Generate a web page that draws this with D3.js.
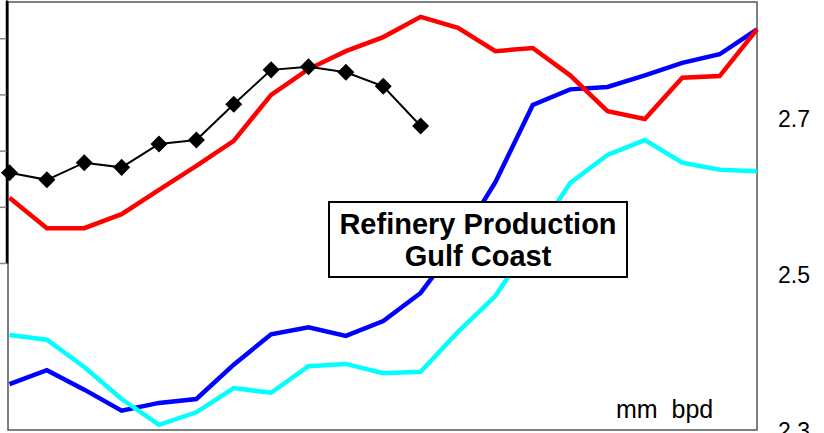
<!DOCTYPE html>
<html>
<head>
<meta charset="utf-8">
<script src="https://cdn.jsdelivr.net/npm/d3@7"></script>
<style>
  body { margin: 0; background: #fff; }
  svg { display: block; font-family: Arial, "Liberation Sans", sans-serif; }
</style>
</head>
<body>
<svg id="chart"></svg>
<script>
// periods along the x axis (21 observations)
const periods = ['1', '2', '3', '4', '5', '6', '7', '8', '9', '10', '11',
  '12', '13', '14', '15', '16', '17', '18', '19', '20', '21'];

// mm bpd
const blueSeries = [2.360, 2.378, 2.353, 2.326, 2.336, 2.341, 2.385, 2.424, 2.433, 2.422, 2.441,
  2.477, 2.541, 2.619, 2.718, 2.738, 2.741, 2.756, 2.772, 2.783, 2.815];
const cyanSeries = [2.423, 2.417, 2.382, 2.341, 2.308, 2.324, 2.355, 2.349, 2.383, 2.386, 2.374,
  2.376, 2.427, 2.473, 2.545, 2.618, 2.654, 2.673, 2.644, 2.635, 2.633];
const redSeries = [2.599, 2.560, 2.560, 2.578, 2.609, 2.640, 2.672, 2.731, 2.764, 2.787, 2.805,
  2.831, 2.817, 2.787, 2.791, 2.756, 2.710, 2.700, 2.753, 2.755, 2.815];
const blackSeries = [2.631, 2.622, 2.644, 2.638, 2.668, 2.673, 2.719, 2.763, 2.767, 2.760, 2.742, 2.691];

const rightTicks = [2.3, 2.5, 2.7];
const leftStubTicks = [0, 1, 2, 3, 4];
const titleLines = ['Refinery Production', 'Gulf Coast'];
const unitLabel = 'mm  bpd';

const width = 824, height = 433;
const frame = {left: 8, top: 2, right: 757, bottom: 430};

const svg = d3.select('#chart')
  .attr('width', width)
  .attr('height', height);

const x = d3.scalePoint()
  .domain(periods)
  .range([9.5, frame.right]);

const y = d3.scaleLinear()
  .domain([2.3, 2.85])
  .range([431, 2]);

// plot frame
svg.append('rect')
  .attr('x', frame.left)
  .attr('y', frame.top)
  .attr('width', frame.right - frame.left)
  .attr('height', frame.bottom - frame.top)
  .attr('fill', 'none')
  .attr('stroke', '#555')
  .attr('stroke-width', 1.5);

// right axis labels
const yAxis = svg.append('g')
  .attr('transform', 'translate(' + frame.right + ',0)')
  .call(d3.axisRight(y)
    .tickValues(rightTicks)
    .tickSize(0)
    .tickPadding(21)
    .tickFormat(d3.format('.1f')));
yAxis.select('.domain').remove();
yAxis.selectAll('text')
  .attr('font-size', 23)
  .attr('font-family', 'Arial, "Liberation Sans", sans-serif')
  .attr('fill', '#000');

// what is left of the neighbouring panel's axis on the far left
const leftStub = d3.scaleLinear().domain([0, 4.68]).range([263, 0]);
const stub = svg.append('g')
  .attr('transform', 'translate(6.5,0)')
  .call(d3.axisLeft(leftStub)
    .tickValues(leftStubTicks)
    .tickSize(7)
    .tickSizeOuter(0)
    .tickFormat(() => ''));
stub.select('.domain').attr('stroke', '#000').attr('stroke-width', 2.5);
stub.selectAll('.tick line').attr('stroke', '#888').attr('stroke-width', 1.5);

const line = d3.line()
  .x((d, i) => x(periods[i]))
  .y(d => y(d));

const series = [
  {values: blueSeries, color: '#0000ff'},
  {values: cyanSeries, color: '#00ffff'},
  {values: redSeries, color: '#ff0000'}
];

svg.append('g')
  .selectAll('path')
  .data(series)
  .join('path')
  .attr('d', d => line(d.values))
  .attr('fill', 'none')
  .attr('stroke', d => d.color)
  .attr('stroke-width', 4.5)
  .attr('stroke-linejoin', 'miter');

svg.append('path')
  .attr('d', line(blackSeries))
  .attr('fill', 'none')
  .attr('stroke', '#000')
  .attr('stroke-width', 2);

svg.append('g')
  .selectAll('path')
  .data(blackSeries)
  .join('path')
  .attr('transform', (d, i) => 'translate(' + x(periods[i]) + ',' + y(d) + ')')
  .attr('d', d3.symbol(d3.symbolDiamond2, 185))
  .attr('fill', '#000');

// title box
const box = svg.append('g');
box.append('rect')
  .attr('x', 329)
  .attr('y', 202)
  .attr('width', 298)
  .attr('height', 75)
  .attr('fill', '#fff')
  .attr('stroke', '#000')
  .attr('stroke-width', 2);
box.selectAll('text')
  .data(titleLines)
  .join('text')
  .attr('x', 478)
  .attr('y', (d, i) => 234 + i * 32)
  .attr('text-anchor', 'middle')
  .attr('font-size', 29)
  .attr('font-weight', 'bold')
  .attr('fill', '#000')
  .text(d => d);

svg.append('text')
  .attr('x', 616)
  .attr('y', 418)
  .attr('font-size', 25)
  .attr('fill', '#000')
  .style('white-space', 'pre')
  .text(unitLabel);
</script>
</body>
</html>
